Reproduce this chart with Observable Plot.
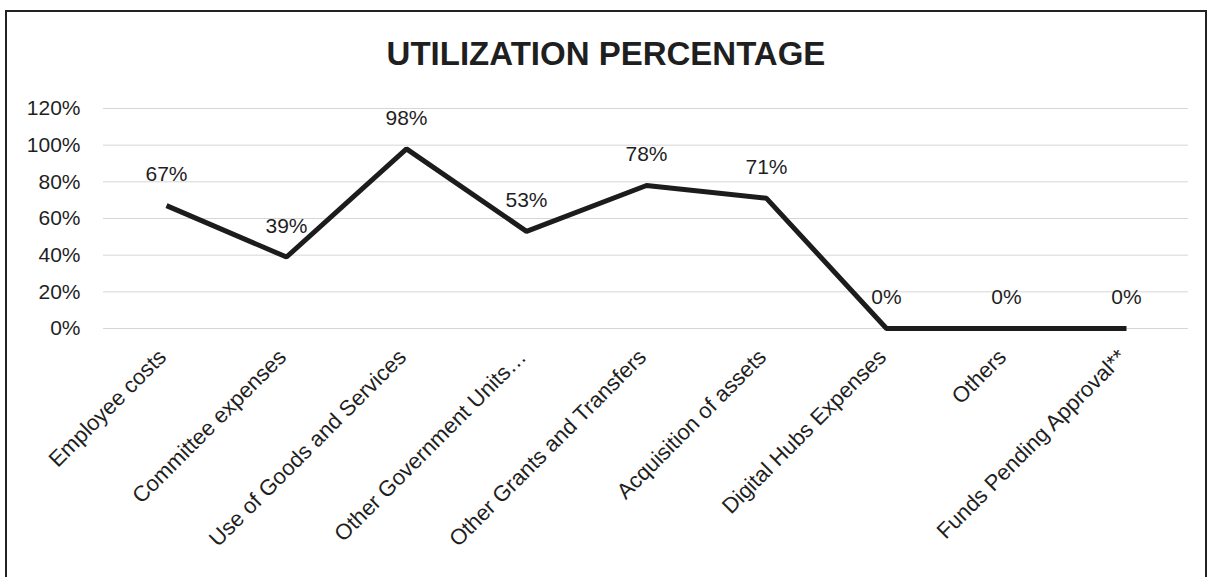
<!DOCTYPE html>
<html>
<head>
<meta charset="utf-8">
<script src="https://cdn.jsdelivr.net/npm/d3@7"></script>
<script src="https://cdn.jsdelivr.net/npm/@observablehq/plot@0.6"></script>
<style>
  html, body { margin: 0; padding: 0; background: #fff; overflow: hidden; }
  #frame {
    position: absolute; left: 5px; top: 10px; width: 1202px; height: 600px;
    border: 2px solid #222; border-bottom: none; box-sizing: border-box; background: #fff;
  }
  #title {
    position: absolute; left: 0; width: 100%; top: 23px; text-align: center;
    font-family: "Liberation Sans", Arial, sans-serif; font-weight: 700; font-size: 33px; color: #1f1f1f;
  }
  #chart { position: absolute; left: 0; top: 68px; }
</style>
</head>
<body>
<div id="frame">
  <div id="title">UTILIZATION PERCENTAGE</div>
  <div id="chart"></div>
</div>
<script>
const categories = [
  "Employee costs",
  "Committee expenses",
  "Use of Goods and Services",
  "Other Government Units…",
  "Other Grants and Transfers",
  "Acquisition of assets",
  "Digital Hubs Expenses",
  "Others",
  "Funds Pending Approval**"
];
const utilization = [0.67, 0.39, 0.98, 0.53, 0.78, 0.71, 0, 0, 0];
const yTicks = [0, 0.2, 0.4, 0.6, 0.8, 1.0, 1.2];

const data = categories.map((c, i) => ({category: c, value: utilization[i]}));
const pct = d => Math.round(d * 100) + "%";

const chart = Plot.plot({
  width: 1194,
  height: 509,
  marginLeft: 96,
  marginRight: 13,
  marginTop: 28,
  marginBottom: 261,
  style: {fontFamily: "Liberation Sans, Arial, sans-serif", fontSize: "21px", color: "#1f1f1f", background: "transparent"},
  x: {type: "point", domain: categories, padding: 0.5, label: null},
  y: {domain: [0, 1.2], label: null},
  marks: [
    Plot.gridY(yTicks, {stroke: "#d6d6d6", strokeOpacity: 1, strokeWidth: 1}),
    Plot.axisY({ticks: yTicks, tickFormat: pct, tickSize: 0, tickPadding: 23, fontSize: 21, label: null}),
    Plot.axisX({tickSize: 0, tickPadding: 25, tickRotate: -45, fontSize: 22, dx: -4, label: null}),
    Plot.line(data, {x: "category", y: "value", stroke: "#1c1c1c", strokeWidth: 5, strokeLinejoin: "miter", strokeLinecap: "butt"}),
    Plot.text(data, {x: "category", y: "value", text: d => pct(d.value), dy: -31, fontSize: 21, fill: "#1f1f1f"})
  ]
});
document.getElementById("chart").appendChild(chart);
</script>
</body>
</html>
